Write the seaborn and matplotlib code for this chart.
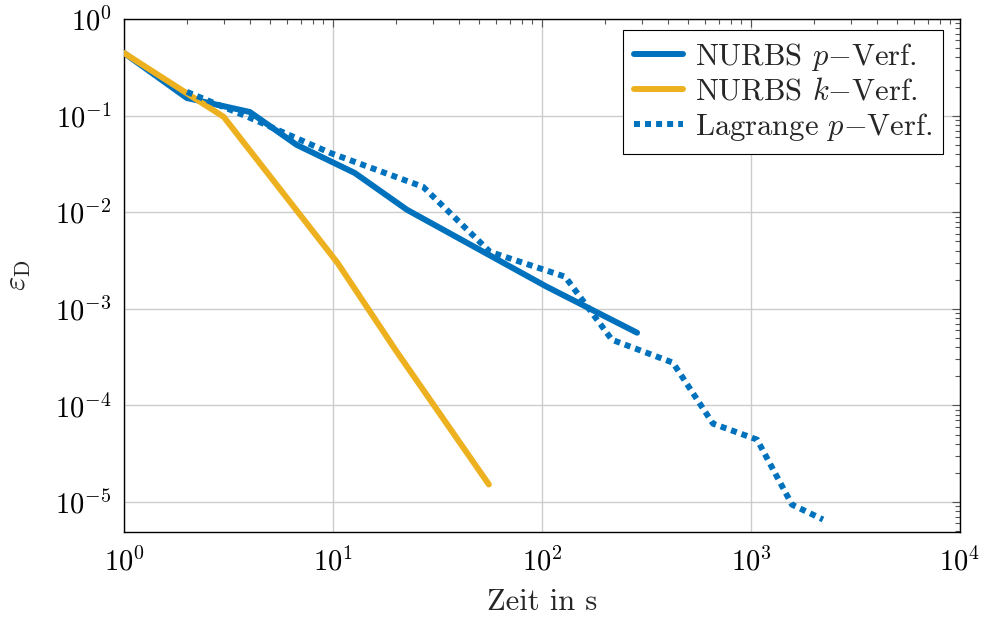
import matplotlib
matplotlib.use("Agg")
import matplotlib.pyplot as plt
import seaborn as sns
import pandas as pd
import numpy as np

# Data
nurbs_p_time = [1.0, 2.0, 4.0, 6.7, 12.7, 22.6, 105.0, 285.0]
nurbs_p_err = [0.445, 0.152, 0.109, 0.0498, 0.0255, 0.0106, 0.0017, 5.66e-4]

nurbs_k_time = [1.0, 2.0, 3.0, 10.5, 20.0, 55.7]
nurbs_k_err = [0.445, 0.17, 0.097, 3.0e-3, 3.7e-4, 1.52e-5]

lag_p_time = [2.0, 4.0, 9.7, 27.0, 56.4, 129.0, 216.0, 423.0, 658.0, 1069.0, 1571.0, 2210.0]
lag_p_err = [0.176, 0.095, 0.0411, 0.0183, 3.89e-3, 2.15e-3, 4.79e-4, 2.77e-4, 6.48e-5, 4.43e-5, 9.4e-6, 6.6e-6]

labels = [r"NURBS $p{-}$Verf.", r"NURBS $k{-}$Verf.", r"Lagrange $p{-}$Verf."]
xticks = [1, 10, 100, 1000, 10000]
yticks = [1e-5, 1e-4, 1e-3, 1e-2, 1e-1, 1]

sns.set_style("whitegrid")
plt.rcParams.update({
    "font.family": "serif",
    "font.serif": ["cmr10"],
    "mathtext.fontset": "cm",
    "axes.formatter.use_mathtext": True,
    "axes.unicode_minus": False,
})

blue = "#0072BD"
orange = "#EDB120"

fig = plt.figure(figsize=(9.82, 6.17), dpi=100)
ax = fig.add_axes([124/982, 1-532/617, (960-124)/982, (532-19)/617])

df1 = pd.DataFrame({"t": nurbs_p_time, "e": nurbs_p_err})
df2 = pd.DataFrame({"t": nurbs_k_time, "e": nurbs_k_err})
df3 = pd.DataFrame({"t": lag_p_time, "e": lag_p_err})

lw = 4.3
sns.lineplot(data=df1, x="t", y="e", ax=ax, color=blue, lw=lw, sort=False,
             estimator=None, label=labels[0], zorder=3)
sns.lineplot(data=df2, x="t", y="e", ax=ax, color=orange, lw=lw, sort=False,
             estimator=None, label=labels[1], zorder=3)
sns.lineplot(data=df3, x="t", y="e", ax=ax, color=blue, lw=lw, sort=False,
             estimator=None, label=labels[2], zorder=3)
ax.lines[2].set_linestyle((0, (1.0, 0.85)))
ax.lines[2].set_dash_capstyle("butt")

ax.set_xscale("log")
ax.set_yscale("log")
ax.set_xlim(1, 1e4)
ax.set_ylim(10**(-5.31), 1)
ax.set_xticks(xticks)
ax.set_yticks(yticks)

ax.grid(True, which="major", color="#cccccc", lw=1.0)
ax.grid(False, which="minor")
for s in ax.spines.values():
    s.set_color("black")
    s.set_linewidth(1.0)

ax.tick_params(which="both", direction="in", top=True, right=True,
               colors="#555555", labelcolor="black")
ax.tick_params(which="major", length=6, width=0.8, labelsize=20.5)
ax.tick_params(axis="x", which="major", pad=11)
ax.tick_params(axis="y", which="major", pad=9)
ax.tick_params(which="minor", length=3.5, width=0.8)
ax.xaxis.set_minor_locator(matplotlib.ticker.LogLocator(base=10, subs=np.arange(2, 10), numticks=20))
ax.yaxis.set_minor_locator(matplotlib.ticker.LogLocator(base=10, subs=np.arange(2, 10), numticks=20))

ax.set_xlabel("Zeit in s", fontsize=22, labelpad=9)
ax.set_ylabel(r"$\varepsilon_{\mathrm{D}}$", fontsize=22, labelpad=16)

leg = ax.legend(loc="upper right", fontsize=22, frameon=True, fancybox=False,
                edgecolor="black", framealpha=1, borderpad=0.35, labelspacing=0.18,
                handlelength=1.6, handletextpad=0.38, borderaxespad=0)
leg.set_bbox_to_anchor(((943-124)/836, 1 - 11/513), transform=ax.transAxes)
leg.get_frame().set_linewidth(0.8)

fig.savefig("out.png", dpi=100)
